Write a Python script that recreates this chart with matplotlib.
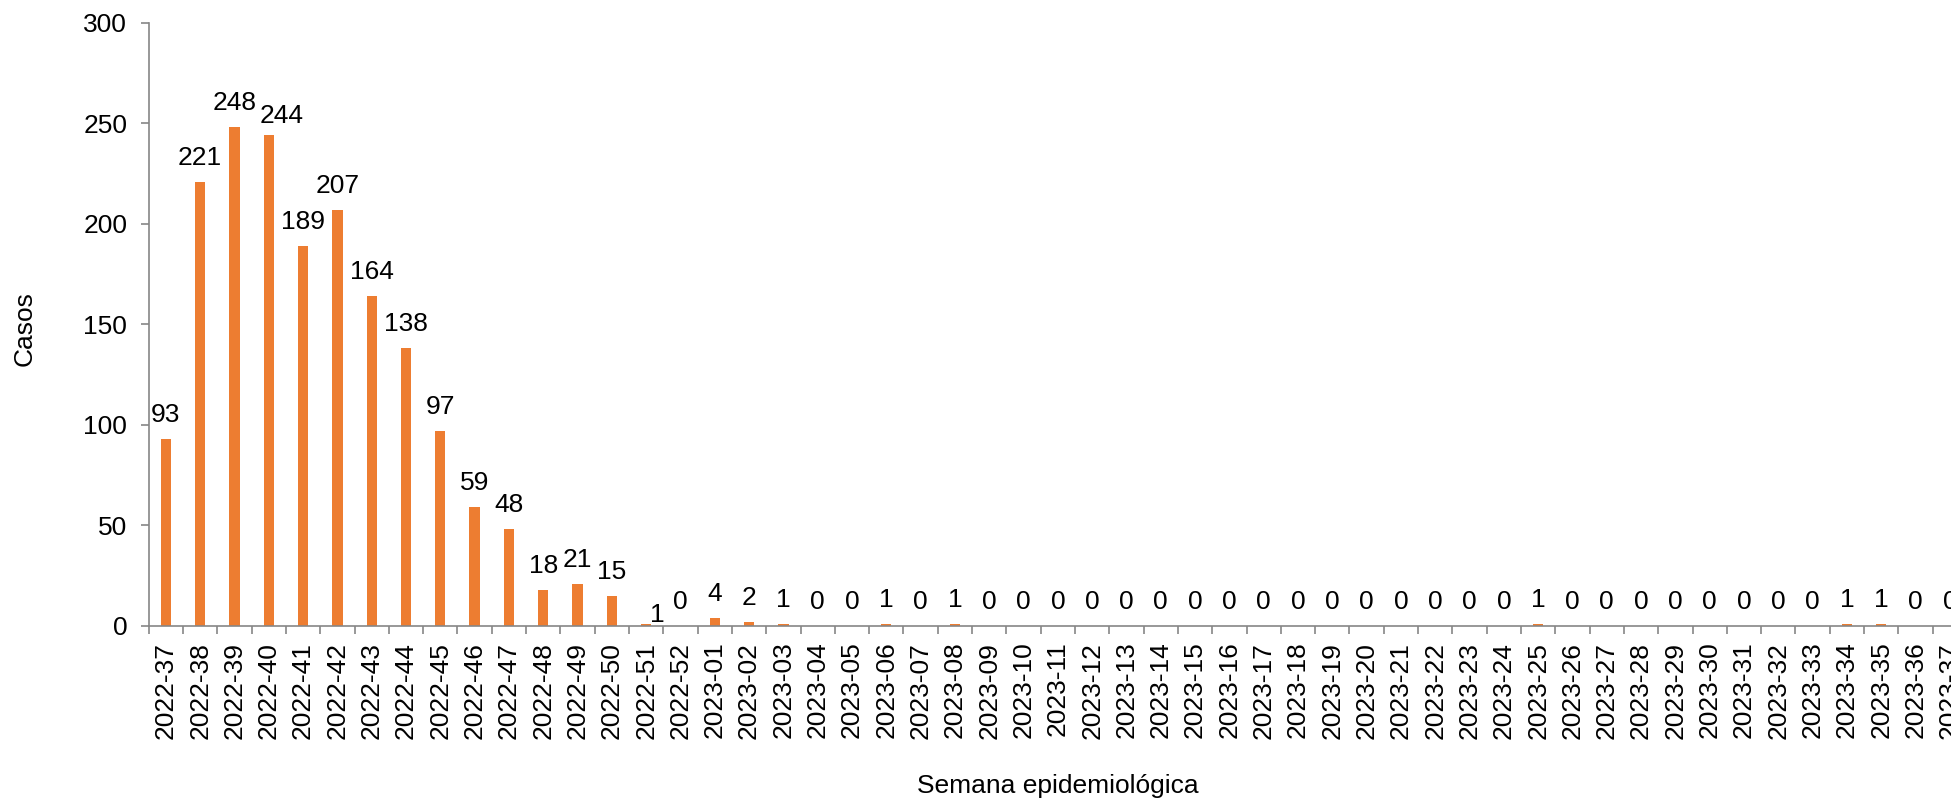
import matplotlib
matplotlib.use("Agg")
import matplotlib.pyplot as plt
import numpy as np
from matplotlib.ticker import FixedLocator

# weeks 2022-37 .. 2023-37
weeks_2022 = [f"2022-{w:02d}" for w in range(37, 53)]
weeks_2023 = [f"2023-{w:02d}" for w in range(1, 38)]
semanas = weeks_2022 + weeks_2023

casos_2022 = [93, 221, 248, 244, 189, 207, 164, 138, 97, 59, 48, 18, 21, 15, 1, 0]
casos_2023 = [4, 2, 1, 0, 0, 1, 0, 1,
              0, 0, 0, 0, 0, 0, 0, 0, 0, 0, 0, 0, 0, 0, 0, 0,
              1, 0, 0, 0, 0, 0, 0, 0, 0,
              1, 1, 0, 0]
casos = casos_2022 + casos_2023

y_ticks = [0, 50, 100, 150, 200, 250, 300]

ORANGE = "#ED7D31"
SPINE = "#868686"
FS = 19

plt.rcParams["font.family"] = ["Liberation Sans", "DejaVu Sans"]

fig = plt.figure(figsize=(19.51, 7.98), dpi=100)
# plot area runs past the right edge of the picture, like the reference
ax = fig.add_axes([0.0762, 0.2159, 0.932, 0.7556])

x = np.arange(len(semanas))
ax.bar(x, casos, width=0.3, color=ORANGE, zorder=2)

# value labels (offset in points); some are pushed aside to avoid overlaps
default_off = (0, 12.2)
nudge = {"2022-40": (9.4, 8.9), "2022-51": (7.7, 1.5)}
for xi, v, s in zip(x, casos, semanas):
    dx, dy = nudge.get(s, default_off)
    ax.annotate(str(v), (xi, v), xytext=(dx, dy),
                textcoords="offset points", ha="center", va="baseline",
                fontsize=FS, color="black")

ax.set_xlim(-0.5, len(semanas) - 0.5)
ax.set_ylim(0, 300)
ax.set_yticks(y_ticks)

ax.set_xticks(x)
ax.set_xticklabels(semanas, rotation=90, fontsize=FS)
ax.xaxis.set_minor_locator(FixedLocator(np.arange(-0.5, len(semanas), 1.0)))
ax.tick_params(axis="x", which="major", length=0, pad=11.5)
ax.tick_params(axis="x", which="minor", length=5.5, color=SPINE, width=1.2)
ax.tick_params(axis="y", length=5.5, color=SPINE, width=1.2, pad=10, labelsize=FS)

for side in ("top", "right"):
    ax.spines[side].set_visible(False)
for side in ("left", "bottom"):
    ax.spines[side].set_color(SPINE)
    ax.spines[side].set_linewidth(1.2)

fig.text(0.0128, 0.5877, "Casos", rotation=90, ha="center", va="center", fontsize=FS)
fig.text(0.5421, 0.0063, "Semana epidemiológica", ha="center", va="baseline", fontsize=FS)

fig.savefig("out.png", dpi=100)
plt.close(fig)
